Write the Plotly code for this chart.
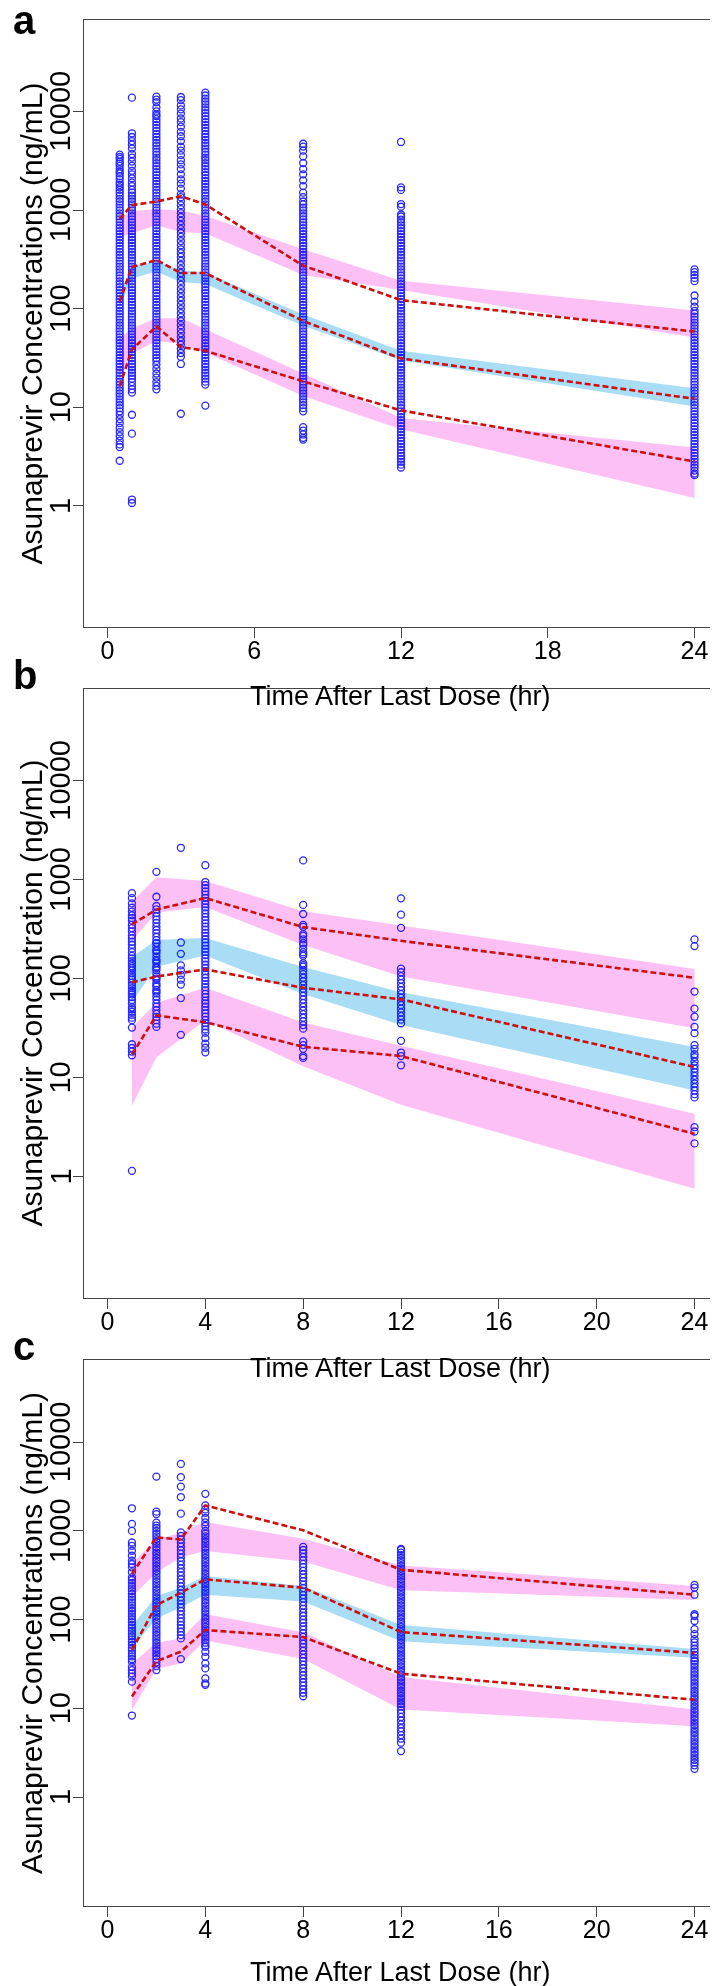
import math
import plotly.graph_objects as go

# ---------------- Panel a ----------------
A_TIMES = [0.5, 1, 2, 3, 4, 8, 12, 24]
A_P95_OBS = [813, 1120, 1220, 1380, 1140, 273, 122, 58.6]
A_P50_OBS = [119, 264, 311, 230, 230, 75, 31.2, 12.2]
A_P05_OBS = [16.4, 38.6, 65.9, 40.8, 37.4, 18.3, 9.3, 2.82]
A_P95_HI = [820, 980, 1020, 990, 870, 400, 192, 96]
A_P95_LO = [530, 580, 700, 600, 580, 220, 155, 51]
A_P50_HI = [145, 270, 303, 245, 232, 87, 37.4, 15.6]
A_P50_LO = [105, 202, 238, 186, 178, 67, 30, 10.2]
A_P05_HI = [50, 63, 80, 80, 62, 22, 7.8, 3.9]
A_P05_LO = [21, 35, 47, 44, 36, 13, 6, 1.2]

A_OBS_T05 = [3650, 3450, 3300, 3100, 2950, 2800, 2600, 2450, 2350, 2200, 2050, 1900, 1800, 1700, 1600, 1500,
             1400, 1300, 1220, 1140, 1060, 990, 925, 865, 805, 750, 700, 655, 612, 570, 533, 497, 464, 433, 404,
             377, 352, 329, 307, 286, 267, 250, 233, 217, 203, 189, 177, 165, 154, 144, 134, 125, 117, 109, 102,
             95, 89, 83, 77.5, 72.3, 67.5, 63, 58.8, 54.9, 51.2, 47.8, 44.6, 41.6, 38.9, 36.3, 33.8, 31.6, 29.5,
             27.5, 25.7, 24, 22.4, 20.9, 19.5, 18.2, 17, 15.8, 14.8, 13.8, 12.9, 12, 11.2, 10.5, 9.8, 9.1,
             8.4, 7.6, 6.9, 6.2, 5.6, 5.1, 4.6, 4.2, 3.95, 2.87]
A_OBS_T1 = [13800, 6000, 5500, 5000, 4600, 4200, 3700, 3400, 3100, 2800, 2500, 2300, 2100, 1900, 1750,
            1600, 1500, 1400, 1300, 1220, 1140, 1060, 990, 925, 865, 805, 750, 700, 655, 612, 570, 533, 497,
            464, 433, 404, 377, 352, 329, 307, 286, 267, 250, 233, 217, 203, 189, 177, 165, 154, 144, 134, 125,
            117, 109, 102, 95, 89, 83, 77.5, 72.3, 67.5, 63, 58.8, 54.9, 51.2, 47.8, 44.6, 41.6, 38.9, 36.3,
            33.8, 31.6, 29.5, 27.5, 25.7, 24, 22.4, 20.9, 19.5, 18, 16.5, 15.2, 14.1, 8.4, 5.4, 1.16, 1.07]
A_OBS_T2 = [14100, 13200, 12400, 11000, 10000, 9300,
            8950, 8350, 7800, 7300, 6800, 6350, 5900, 5500, 5150, 4800, 4500, 4200, 3900, 3650, 3400, 3200,
            2980, 2780, 2600, 2420, 2260, 2110, 1970, 1840, 1720, 1600, 1500, 1400, 1300, 1220, 1140, 1060,
            990, 925, 865, 805, 750, 700, 655, 612, 570, 533, 497, 464, 433, 404, 377, 352, 329, 307, 286, 267,
            250, 233, 217, 203, 189, 177, 165, 154, 144, 134, 125, 117, 109, 102, 95, 89, 83, 77.5, 72.3, 67.5,
            63, 58.8, 54.9, 51.2, 47.8, 44.6, 41.6, 38.9, 36.3, 33.8, 31.6, 29.5,
            27, 24.5, 22, 20, 18, 16.5, 15.2]
A_OBS_T3 = [14000, 13000, 11500, 10500, 9500, 8500, 7800, 7000, 6200, 5600, 5000, 4400, 4000, 3600, 3200,
            2900, 2600, 2300, 2050, 1850, 1650, 1450,
            1350, 1230, 1120, 1020, 930, 850, 775, 705, 640, 585, 535, 485, 440, 400, 365, 335, 305, 277, 252,
            230, 210, 191, 174, 158, 144, 131, 120, 109, 99, 90, 82, 75, 68, 62, 56.5, 51.5, 47, 43, 39, 35.5,
            32.5, 27.5, 8.6]
A_OBS_T4 = [15500, 14500, 13500, 12600, 11800, 11000, 10300, 9600, 8950, 8350, 7800, 7300, 6800, 6350, 5900,
            5500, 5150, 4800, 4500, 4200, 3900, 3650, 3400, 3200, 2980, 2780, 2600, 2420, 2260, 2110, 1970,
            1840, 1720, 1600, 1500, 1400, 1300, 1220, 1140, 1060, 990, 925, 865, 805, 750, 700, 655, 612, 570,
            533, 497, 464, 433, 404, 377, 352, 329, 307, 286, 267, 250, 233, 217, 203, 189, 177, 165, 154, 144,
            134, 125, 117, 109, 102, 95, 89, 83, 77.5, 72.3, 67.5, 63, 58.8, 54.9, 51.2, 47.8, 44.6, 41.6, 38.9,
            36.3, 33.8, 31.6, 29.5, 27.5, 25.7, 24, 22.4, 20.9, 19.5, 18.2, 17, 10.4]
A_OBS_T8 = [4700, 4400, 4000, 3500, 3000, 2600, 2300, 2000, 1750, 1500, 1350,
            1220, 1140, 1060, 990, 925, 865, 805, 750, 700, 655, 612, 570, 533, 497, 464, 433, 404, 377, 352,
            329, 307, 286, 267, 250, 233, 217, 203, 189, 177, 165, 154, 144, 134, 125, 117, 109, 102, 95, 89,
            83, 77.5, 72.3, 67.5, 63, 58.8, 54.9, 51.2, 47.8, 44.6, 41.6, 38.9, 36.3, 33.8, 31.6, 29.5, 27.5,
            25.7, 24, 22.4, 20.9, 19.5, 18.2, 17, 15.8, 14.8, 13.8, 12.9, 12, 11.2, 10.5, 9.8,
            9.1, 6.3, 5.8, 5.3, 4.9, 4.7]
A_OBS_T12 = [4900, 1700, 1600, 1150, 1080, 900, 860, 800,
             750, 700, 655, 612, 570, 533, 497, 464, 433, 404, 377, 352, 329, 307, 286, 267, 250, 233, 217, 203,
             189, 177, 165, 154, 144, 134, 125, 117, 109, 102, 95, 89, 83, 77.5, 72.3, 67.5, 63, 58.8, 54.9,
             51.2, 47.8, 44.6, 41.6, 38.9, 36.3, 33.8, 31.6, 29.5, 27.5, 25.7, 24, 22.4, 20.9, 19.5, 18.2, 17,
             15.8, 14.8, 13.8, 12.9, 12, 11.2, 10.5, 9.8, 9.1, 8.5, 7.95, 7.4, 6.9, 6.45, 6.0, 5.6, 5.25, 4.9,
             4.55, 4.25, 3.97, 3.7, 3.45, 3.22, 3.0, 2.8, 2.62, 2.45]
A_OBS_T24 = [250, 235, 220, 205, 190, 136, 118, 105, 95,
             89, 83, 77.5, 72.3, 67.5, 63, 58.8, 54.9, 51.2, 47.8, 44.6, 41.6, 38.9, 36.3, 33.8, 31.6, 29.5,
             27.5, 25.7, 24, 22.4, 20.9, 19.5, 18.2, 17, 15.8, 14.8, 13.8, 12.9, 12, 11.2, 10.5, 9.8, 9.1, 8.5,
             7.95, 7.4, 6.9, 6.45, 6.0, 5.6, 5.25, 4.9, 4.55, 4.25, 3.97, 3.7, 3.45, 3.22, 3.0, 2.8, 2.62, 2.45,
             2.28, 2.13, 2.05]

# ---------------- Panel b ----------------
B_TIMES = [1, 2, 4, 8, 12, 24]
B_P95_OBS = [354, 499, 652, 332, 241, 102]
B_P50_OBS = [91.8, 105, 124, 80.7, 61.7, 12.8]
B_P05_OBS = [17.1, 42.5, 36.2, 20.5, 16.5, 2.7]
B_P95_HI = [600, 1060, 970, 480, 345, 125]
B_P95_LO = [240, 465, 530, 218, 105, 31.5]
B_P50_HI = [165, 245, 257, 131, 73, 20.4]
B_P50_LO = [58, 132, 171, 70, 34, 7.4]
B_P05_HI = [32, 57, 81, 36, 21, 4.3]
B_P05_LO = [5.2, 16, 38, 13, 5.3, 0.75]

B_OBS_T1 = [731, 650, 575, 520, 476, 437, 410, 385, 350, 324, 300, 273, 255, 236, 220, 202, 185, 170, 160,
            150, 142, 134, 128, 121, 113, 106, 101, 97.5, 91, 85.7, 80, 75.4, 72, 69.2, 65, 60.8, 56, 51.2, 49,
            46.2, 43, 40.3, 38, 32, 21.7, 19.9, 18.3, 16.8, 1.14]
B_OBS_T2 = [1200, 672, 542, 500, 460, 425, 395, 365, 335, 310, 288, 265, 245, 230, 228, 210, 195, 190, 180,
            167, 155, 150, 143, 132, 128, 122, 113, 105, 100, 97, 90, 86, 83, 77, 74, 71, 66, 61, 56, 52, 48,
            44, 41, 38, 35, 32.5]
B_OBS_T3 = [2100, 232, 178, 136, 121, 109, 97.5, 87, 63.5, 27]
B_OBS_T4 = [1400, 946, 880, 820, 760, 705, 655, 610, 565, 525, 490, 455, 420, 390, 362, 336, 312, 290, 270,
            250, 232, 215, 200, 186, 173, 160, 149, 138, 128, 119, 110, 102, 95, 88, 82, 76, 70, 65, 60, 56, 52,
            48, 44.5, 41.3, 38.3, 35.5, 33, 30.6, 28.4, 25, 22, 20, 18]
B_OBS_T8 = [1566, 556, 450, 349, 334, 282, 270, 249, 229, 219, 201, 185, 177, 170, 143, 137, 132, 121, 111,
            102, 93.8, 86.1, 79.2, 72.8, 66.8, 61.4, 56.4, 51.8, 47.6, 43.7, 40.2, 36.9, 33.9, 31.2, 23.2, 21.3,
            19.5, 16.5, 15.8]
B_OBS_T12 = [648, 443, 326, 126, 116, 106, 97.8, 89.9, 82.6, 75.9, 69.7, 64, 58.9, 54.1, 49.7, 45.6, 41.9,
             38.5, 35.4, 23.5, 17.9, 16.5, 13.3]
B_OBS_T24 = [249, 213, 74, 49.7, 41.2, 32.5, 28.1, 21.3, 19.5, 17.2, 16.1, 14.5, 13.3, 12.3, 11.3, 10.4, 9.5,
             8.7, 8.0, 7.4, 6.8, 6.3, 3.15, 2.85, 2.16]

# ---------------- Panel c ----------------
C_TIMES = [1, 2, 3, 4, 8, 12, 24]
C_P95_OBS = [327, 846, 802, 1940, 1016, 365, 191]
C_P50_OBS = [45.5, 146, 201, 285, 229, 72.4, 42.2]
C_P05_OBS = [13.6, 34, 43.6, 76.4, 63.6, 24.6, 12.5]
C_P95_HI = [429, 800, 955, 1260, 819, 408, 240]
C_P95_LO = [181, 340, 505, 593, 453, 215, 167]
C_P50_HI = [85, 185, 229, 310, 240, 87, 46.8]
C_P50_LO = [48, 103, 138, 191, 160, 57, 37.2]
C_P05_HI = [32, 55, 61.5, 115, 72, 22.6, 9.7]
C_P05_LO = [9.6, 28, 32, 58.3, 36, 9.7, 6.3]

C_OBS_T1 = [1800, 1200, 1000, 741, 680, 598, 525, 461, 424, 389, 342, 300, 280, 260, 242, 225, 210, 195, 181,
            168, 156, 145, 135, 126, 117, 109, 101, 94, 87, 81, 75, 70, 65, 60, 56, 52, 48, 45, 41.5, 38.5, 36,
            33.5, 29.4, 27, 24.8, 22.8, 20, 8.3]
C_OBS_T2 = [4100, 1650, 1550, 1240, 1150, 1080, 1000, 930, 870, 810, 755, 705, 655, 612, 570, 533, 497, 464,
            433, 404, 377, 352, 329, 307, 286, 267, 250, 233, 217, 203, 189, 177, 165, 154, 144, 134, 125, 117,
            109, 102, 95, 89, 83, 77.5, 72.3, 67.5, 63, 58.8, 54.9, 51.2, 47.8, 44.6, 41.6, 38.9, 36, 33, 30, 27]
C_OBS_T3 = [5700, 4040, 3160, 2410, 1565, 963, 880, 800, 730, 665, 605, 550, 500, 455, 415, 378, 344, 313, 285,
            260, 237, 216, 197, 180, 164, 150, 137, 125, 114, 104, 95, 87, 80, 73, 67, 61.5, 35.9]
C_OBS_T4 = [2620, 1940, 1750, 1600, 1400, 1250, 1140, 1000, 930, 870, 810, 755, 705, 655, 612, 570, 533, 497,
            464, 433, 404, 377, 352, 329, 307, 286, 267, 250, 233, 217, 203, 189, 177, 165, 154, 144, 134, 125,
            117, 109, 102, 95, 89, 83, 77.5, 72.3, 67.5, 63, 58.8, 54.9, 51.2, 49.3, 43.4, 38.1, 32.1, 28.2,
            21.8, 19.1, 18.4]
C_OBS_T8 = [660, 610, 560, 510, 465, 425, 390, 355, 325, 297, 272, 248, 227, 207, 189, 173, 158, 144, 132, 120,
            110, 100, 92, 84, 77, 70, 64, 58.5, 53.5, 49, 44.5, 40.5, 37, 34, 31, 28.3, 25.8, 23.6, 21.5, 19.7,
            18, 16.4, 15, 13.7]
C_OBS_T12 = [626, 612, 570, 533, 497, 464, 433, 404, 377, 352, 329, 307, 286, 267, 250, 233, 217, 203, 189,
             177, 165, 154, 144, 134, 125, 117, 109, 102, 95, 89, 83, 77.5, 72.3, 67.5, 63, 58.8, 54.9, 51.2,
             47.8, 44.6, 41.6, 38.9, 36.3, 33.8, 31.6, 29.5, 27.5, 25.7, 24, 22.4, 20.9, 19.5, 18.2, 17, 15.8,
             14.8, 13.8, 12.9, 12, 11.2, 10.5, 9.6, 8.8, 8.0, 7.3, 6.6, 6.0, 5.5, 5.0, 4.55, 4.1, 3.3]
C_OBS_T24 = [247, 230, 191, 115, 110, 96.5, 78, 68.7, 60.4, 55.5, 51, 47, 43.5, 40, 37, 34.7, 33.8, 31.6, 29.5,
             27.5, 25.7, 24, 22.4, 20.9, 19.5, 18.2, 17, 15.8, 14.8, 13.8, 12.9, 12, 11.2, 10.5, 9.8, 9.1, 8.5,
             7.95, 7.4, 6.9, 6.45, 6.0, 5.6, 5.25, 4.9, 4.55, 4.25, 3.97, 3.7, 3.45, 3.22, 3.0, 2.8, 2.62, 2.45,
             2.28, 2.08]

# ---------------- labels ----------------
PANEL_LETTERS = ["a", "b", "c"]
Y_TITLES = ["Asunaprevir Concentrations (ng/mL)", "Asunaprevir Concentration (ng/mL)",
            "Asunaprevir Concentrations (ng/mL)"]
X_TITLE = "Time After Last Dose (hr)"
X_TICKS = [[0, 6, 12, 18, 24], [0, 4, 8, 12, 16, 20, 24], [0, 4, 8, 12, 16, 20, 24]]
Y_TICKS = [1, 10, 100, 1000, 10000]
Y_TICK_TEXT = ["1", "10", "100", "1000", "10000"]

# ---------------- style / layout ----------------
W, H = 718, 1986
FONT = "Liberation Sans, Arial, Helvetica, sans-serif"
PINK = "#FDC0F5"
LBLUE = "#A9DDF6"
RED = "#CC1010"
PT = "#0000FF"
AX = "#444444"
PLOT_L, PLOT_R = 76, 710
PANEL_BOX = [(12, 619), (681, 1290), (1352, 1898)]   # (top, bottom) in px
XTITLE_Y = [688, 1360, 1964]
LETTER_Y = [12, 667, 1338]
LETTER_X = 3
YTITLE_X = 23
YTICKLAB_X = 52

panels = [
    (A_TIMES, A_P95_OBS, A_P50_OBS, A_P05_OBS, A_P95_HI, A_P95_LO, A_P50_HI, A_P50_LO, A_P05_HI, A_P05_LO,
     [(0.5, A_OBS_T05), (1, A_OBS_T1), (2, A_OBS_T2), (3, A_OBS_T3), (4, A_OBS_T4), (8, A_OBS_T8),
      (12, A_OBS_T12), (24, A_OBS_T24)]),
    (B_TIMES, B_P95_OBS, B_P50_OBS, B_P05_OBS, B_P95_HI, B_P95_LO, B_P50_HI, B_P50_LO, B_P05_HI, B_P05_LO,
     [(1, B_OBS_T1), (2, B_OBS_T2), (3, B_OBS_T3), (4, B_OBS_T4), (8, B_OBS_T8), (12, B_OBS_T12),
      (24, B_OBS_T24)]),
    (C_TIMES, C_P95_OBS, C_P50_OBS, C_P05_OBS, C_P95_HI, C_P95_LO, C_P50_HI, C_P50_LO, C_P05_HI, C_P05_LO,
     [(1, C_OBS_T1), (2, C_OBS_T2), (3, C_OBS_T3), (4, C_OBS_T4), (8, C_OBS_T8), (12, C_OBS_T12),
      (24, C_OBS_T24)]),
]

fig = go.Figure()


def py(p):
    return 1 - p / H


annotations = []
layout_axes = {}
for i, (times, p95o, p50o, p05o, p95hi, p95lo, p50hi, p50lo, p05hi, p05lo, obs) in enumerate(panels):
    n = i + 1
    xa = "x" if n == 1 else f"x{n}"
    ya = "y" if n == 1 else f"y{n}"
    rev = list(times)[::-1]
    for hi, lo, col in [(p95hi, p95lo, PINK), (p05hi, p05lo, PINK), (p50hi, p50lo, LBLUE)]:
        fig.add_trace(go.Scatter(x=list(times) + rev, y=list(hi) + list(lo)[::-1], fill="toself",
                                 fillcolor=col, mode="lines", line=dict(width=0, color=col),
                                 hoverinfo="skip", showlegend=False, xaxis=xa, yaxis=ya))
    xs, ys = [], []
    for t, vals in obs:
        xs += [t] * len(vals)
        ys += list(vals)
    fig.add_trace(go.Scatter(x=xs, y=ys, mode="markers",
                             marker=dict(symbol="circle-open", size=7, color=PT, line=dict(width=1.3, color=PT)),
                             opacity=0.85, showlegend=False, xaxis=xa, yaxis=ya))
    for line in (p95o, p50o, p05o):
        fig.add_trace(go.Scatter(x=times, y=line, mode="lines",
                                 line=dict(color=RED, width=2.6, dash="6px,3px"),
                                 showlegend=False, xaxis=xa, yaxis=ya))

    top, bot = PANEL_BOX[i]
    xkey = "xaxis" if n == 1 else f"xaxis{n}"
    ykey = "yaxis" if n == 1 else f"yaxis{n}"
    layout_axes[xkey] = dict(domain=[PLOT_L / W, PLOT_R / W], range=[-0.96, 24.96], anchor=ya,
                             tickvals=X_TICKS[i], ticktext=[str(v) for v in X_TICKS[i]],
                             ticks="outside", ticklen=10, tickwidth=1, tickcolor=AX,
                             showline=True, mirror=True, linecolor=AX, linewidth=1.2,
                             showgrid=False, zeroline=False, ticklabelstandoff=-9,
                             tickfont=dict(size=25, color="black", family=FONT))
    layout_axes[ykey] = dict(domain=[py(bot), py(top)], type="log", range=[-1.228, 4.927], anchor=xa,
                             tickvals=Y_TICKS, showticklabels=False,
                             ticks="outside", ticklen=10, tickwidth=1, tickcolor=AX,
                             showline=True, mirror=True, linecolor=AX, linewidth=1.2,
                             showgrid=False, zeroline=False)
    for v, txt in zip(Y_TICKS, Y_TICK_TEXT):
        annotations.append(dict(text=txt, textangle=-90, x=YTICKLAB_X / W, y=math.log10(v),
                                xref="paper", yref=ya, xanchor="center", yanchor="middle", showarrow=False,
                                font=dict(size=29, color="black", family=FONT)))
    annotations.append(dict(text=Y_TITLES[i], textangle=-90, x=YTITLE_X / W, y=py((top + bot) / 2),
                            xref="paper", yref="paper", xanchor="center", yanchor="middle", showarrow=False,
                            font=dict(size=30, color="black", family=FONT)))
    annotations.append(dict(text=X_TITLE, x=(PLOT_L + PLOT_R) / 2 / W, y=py(XTITLE_Y[i]),
                            xref="paper", yref="paper", xanchor="center", yanchor="middle", showarrow=False,
                            font=dict(size=27, color="black", family=FONT)))
    annotations.append(dict(text="<b>" + PANEL_LETTERS[i] + "</b>", x=LETTER_X / W, y=py(LETTER_Y[i]),
                            xref="paper", yref="paper", xanchor="left", yanchor="middle", showarrow=False,
                            font=dict(size=40, color="black", family=FONT)))

fig.update_layout(width=W, height=H, margin=dict(l=0, r=0, t=0, b=0), paper_bgcolor="white",
                  plot_bgcolor="white", showlegend=False, font=dict(family=FONT, color="black"),
                  annotations=annotations, **layout_axes)

fig.write_html("out.html")
